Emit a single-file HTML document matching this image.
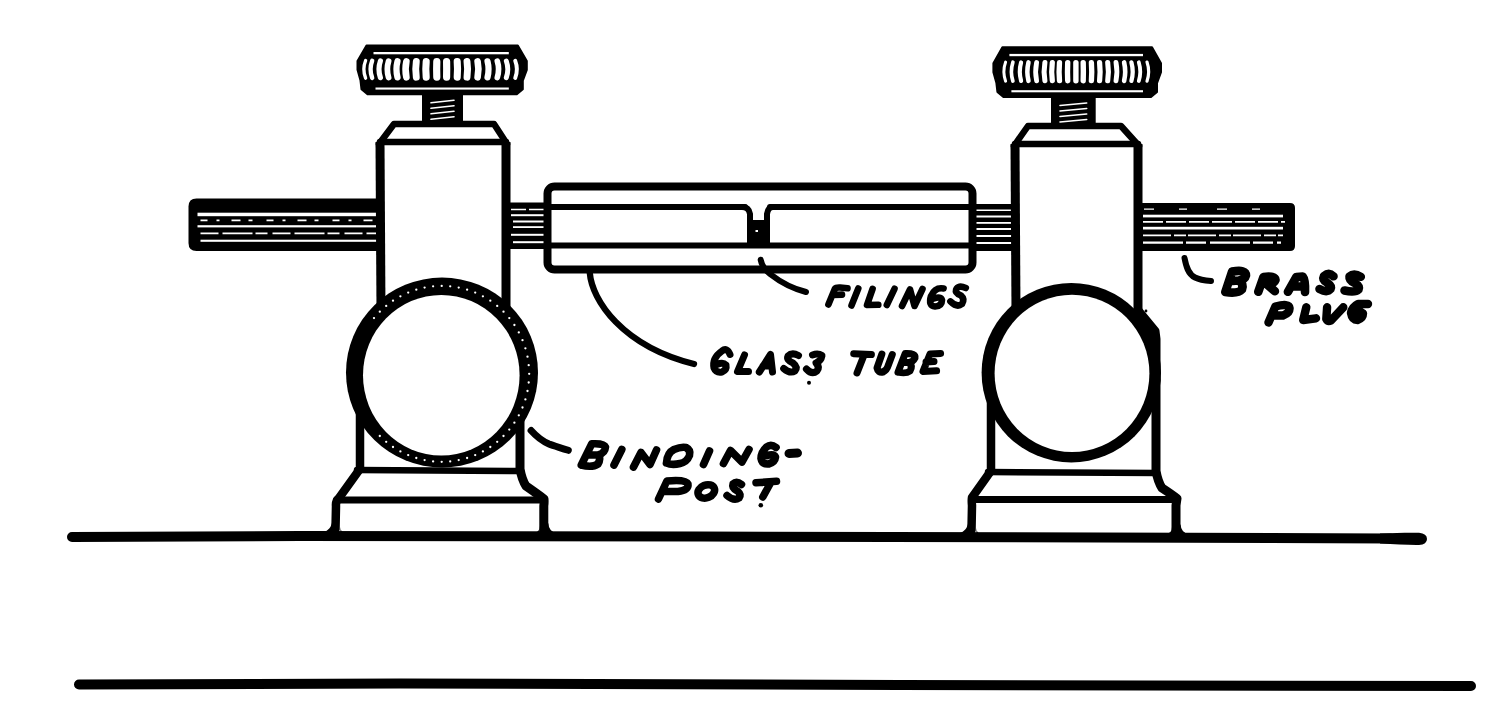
<!DOCTYPE html>
<html><head><meta charset="utf-8"><style>
html,body{margin:0;padding:0;background:#fff;width:1491px;height:726px;overflow:hidden}
svg{display:block}
</style></head><body>
<svg width="1491" height="726" viewBox="0 0 1491 726">
<rect width="1491" height="726" fill="#fff"/>
<path d="M196.5,198.5 L380,198.5 Q380,198.5 380,198.5 L380,251 Q380,251 380,251 L196.5,251 Q188.5,251 188.5,243 L188.5,206.5 Q188.5,198.5 196.5,198.5 Z" fill="#000"/>
<rect x="197.5" y="212.7" width="182.5" height="3.5" fill="#fff"/>
<line x1="200.5" y1="220.35" x2="380" y2="220.35" stroke="#fff" stroke-width="1.6999999999999886" stroke-dasharray="7 9 3 12 9 8 4 14"/>
<rect x="197.5" y="225.2" width="182.5" height="2.200000000000017" fill="#fff"/>
<line x1="200.5" y1="233.39999999999998" x2="380" y2="233.39999999999998" stroke="#fff" stroke-width="1.5999999999999943" stroke-dasharray="18 4 30 3 12 5"/>
<rect x="200.5" y="239.7" width="179.5" height="2.1000000000000227" fill="#fff"/>
<path d="M505,202.5 L548,202.5 Q548,202.5 548,202.5 L548,249 Q548,249 548,249 L505,249 Q505,249 505,249 L505,202.5 Q505,202.5 505,202.5 Z" fill="#000"/>
<line x1="511" y1="209.5" x2="548" y2="209.5" stroke="#fff" stroke-width="1.3999999999999773" stroke-dasharray="15 3"/>
<rect x="511" y="214.2" width="37" height="2.0" fill="#fff"/>
<rect x="513" y="220.5" width="35" height="2.0" fill="#fff"/>
<rect x="513" y="226.2" width="35" height="1.8000000000000114" fill="#fff"/>
<rect x="511" y="233.8" width="37" height="2.0" fill="#fff"/>
<rect x="513" y="241.2" width="35" height="2.0" fill="#fff"/>
<path d="M970,204 L1015,204 Q1015,204 1015,204 L1015,251 Q1015,251 1015,251 L970,251 Q970,251 970,251 L970,204 Q970,204 970,204 Z" fill="#000"/>
<rect x="976" y="209.5" width="39" height="1.5" fill="#fff"/>
<rect x="976" y="215.5" width="39" height="2.0" fill="#fff"/>
<rect x="976" y="222" width="39" height="1.8000000000000114" fill="#fff"/>
<rect x="976" y="228" width="39" height="2" fill="#fff"/>
<rect x="976" y="235" width="39" height="2" fill="#fff"/>
<rect x="976" y="242" width="39" height="2" fill="#fff"/>
<path d="M1138,203 L1290,203 Q1295,203 1295,208 L1295,246 Q1295,251 1290,251 L1138,251 Q1138,251 1138,251 L1138,203 Q1138,203 1138,203 Z" fill="#000"/>
<line x1="1144" y1="209.10000000000002" x2="1285" y2="209.10000000000002" stroke="#fff" stroke-width="1.4000000000000057" stroke-dasharray="10 25 8 30"/>
<rect x="1143" y="214.7" width="140" height="2.700000000000017" fill="#fff"/>
<line x1="1143" y1="221.85" x2="1285" y2="221.85" stroke="#fff" stroke-width="1.6999999999999886" stroke-dasharray="20 3"/>
<rect x="1143" y="226.8" width="140" height="2.6999999999999886" fill="#fff"/>
<line x1="1143" y1="235.3" x2="1283" y2="235.3" stroke="#fff" stroke-width="1.799999999999983" stroke-dasharray="28 3 12 2"/>
<line x1="1143" y1="242.65" x2="1281" y2="242.65" stroke="#fff" stroke-width="2.3000000000000114" stroke-dasharray="40 3 20 4"/>
<rect x="547.5" y="186.5" width="425" height="83" rx="7" fill="#fff" stroke="#000" stroke-width="8"/>
<path d="M548,207 L745,207" fill="none" stroke="#000" stroke-width="6" stroke-linecap="round" stroke-linejoin="round"/>
<path d="M770,207 L972,207" fill="none" stroke="#000" stroke-width="6" stroke-linecap="round" stroke-linejoin="round"/>
<path d="M548,245.5 L972,245.5" fill="none" stroke="#000" stroke-width="6" stroke-linecap="round" stroke-linejoin="round"/>
<path d="M742,207 Q749,207 750,214 L750,245 L767,245 L767,214 Q768,207 773,207" fill="none" stroke="#000" stroke-width="6" stroke-linecap="round" stroke-linejoin="round"/>
<rect x="748" y="220" width="21" height="26" fill="#000"/>
<rect x="755.5" y="230" width="2.5" height="2" fill="#fff"/>
<path d="M72,537 L300,536 L700,536.5 L1100,537.5 L1390,538.5" fill="none" stroke="#000" stroke-width="10" stroke-linecap="round"/>
<path d="M1380,533.6 C1395,533 1408,532.5 1419,532.8 Q1427,533.5 1427,539 Q1427,544.5 1419,545 C1408,545.2 1395,544 1380,543.5 Z" fill="#000"/>
<path d="M79,684.5 L400,683.5 L900,685 L1471,686" fill="none" stroke="#000" stroke-width="10" stroke-linecap="round"/>
<path d="M379,144 L394,124 L494,124 L507,144" fill="#fff" stroke="#000" stroke-width="6.5" stroke-linecap="round" stroke-linejoin="round"/>
<path d="M380,142 L506,142" fill="none" stroke="#000" stroke-width="6.5" stroke-linecap="round" stroke-linejoin="round"/>
<path d="M380,142 L381,312" fill="none" stroke="#000" stroke-width="9" stroke-linecap="butt" stroke-linejoin="round"/>
<path d="M506,142 L506,312" fill="none" stroke="#000" stroke-width="9" stroke-linecap="butt" stroke-linejoin="round"/>
<rect x="360" y="380" width="160" height="90" fill="#fff"/>
<path d="M360,380 L360,468 Q359,471 357,473 L339,498 Q335.5,501 336.0,506 L335.5,529 Q334.5,535 326.5,536" fill="none" stroke="#000" stroke-width="8.5" stroke-linecap="round" stroke-linejoin="round"/>
<path d="M520,380 L520,469 Q522,480 526,486 Q539,495 544,499 Q544.3,502 543.8,506 L543.8,529 Q543.8,535 550.8,536" fill="none" stroke="#000" stroke-width="9" stroke-linecap="round" stroke-linejoin="round"/>
<path d="M357,470 L521,471" fill="none" stroke="#000" stroke-width="6.5" stroke-linecap="round" stroke-linejoin="round"/>
<path d="M336.5,500 L543.8,500" fill="none" stroke="#000" stroke-width="7" stroke-linecap="round" stroke-linejoin="round"/>
<path d="M332.5,519 Q332.0,531 320.5,533 L336.5,537 Z" fill="#000"/>
<path d="M548.3,523 Q548.8,531 555.8,533 L543.8,537 Z" fill="#000"/>
<path d="M340.5,533 L340.5,527 Q340.5,533 346.5,533 Z" fill="#000"/>
<path d="M539.8,533 L539.8,526 Q539.8,533 532.8,533 Z" fill="#000"/>
<path d="M1014,146 L1028,126 L1121,126 L1139,146" fill="#fff" stroke="#000" stroke-width="6.5" stroke-linecap="round" stroke-linejoin="round"/>
<path d="M1015,144 L1138,144" fill="none" stroke="#000" stroke-width="6.5" stroke-linecap="round" stroke-linejoin="round"/>
<path d="M1015,144 L1016,312" fill="none" stroke="#000" stroke-width="9" stroke-linecap="butt" stroke-linejoin="round"/>
<path d="M1138,144 L1138,312" fill="none" stroke="#000" stroke-width="9" stroke-linecap="butt" stroke-linejoin="round"/>
<rect x="991" y="380" width="165" height="92" fill="#fff"/>
<path d="M991,380 L991,470 Q990,473 988,475 L972,497.5 Q971.5,500.5 972.0,505.5 L971.5,530 Q970.5,536 962.5,537" fill="none" stroke="#000" stroke-width="8.5" stroke-linecap="round" stroke-linejoin="round"/>
<path d="M1138.5,311 L1155,331 L1156,339 L1156,380" fill="none" stroke="#000" stroke-width="9" stroke-linecap="round" stroke-linejoin="round"/>
<path d="M1156,380 L1156,471 Q1158,482 1162,488 Q1172,494.5 1177,498.5 Q1176.5,501.5 1176,505.5 L1176,530 Q1176,536 1183,537" fill="none" stroke="#000" stroke-width="9" stroke-linecap="round" stroke-linejoin="round"/>
<path d="M988,472 L1157,473" fill="none" stroke="#000" stroke-width="6.5" stroke-linecap="round" stroke-linejoin="round"/>
<path d="M972.5,499.5 L1176,499.5" fill="none" stroke="#000" stroke-width="7" stroke-linecap="round" stroke-linejoin="round"/>
<path d="M968.5,520 Q968.0,532 956.5,534 L972.5,538 Z" fill="#000"/>
<path d="M1180.5,524 Q1181,532 1188,534 L1176,538 Z" fill="#000"/>
<path d="M976.5,534 L976.5,528 Q976.5,534 982.5,534 Z" fill="#000"/>
<path d="M1172,534 L1172,527 Q1172,534 1165,534 Z" fill="#000"/>
<ellipse cx="442" cy="372.6" rx="96" ry="95" fill="#000"/>
<ellipse cx="441.3" cy="375.2" rx="78.3" ry="80.3" fill="#fff"/>
<circle cx="529.2" cy="373.8" r="1.15" fill="#fff"/>
<circle cx="528.7" cy="382.5" r="1.15" fill="#fff"/>
<circle cx="527.5" cy="391.0" r="1.15" fill="#fff"/>
<circle cx="525.4" cy="399.4" r="1.15" fill="#fff"/>
<circle cx="522.5" cy="407.5" r="1.15" fill="#fff"/>
<circle cx="518.8" cy="415.3" r="1.15" fill="#fff"/>
<circle cx="514.4" cy="422.7" r="1.15" fill="#fff"/>
<circle cx="509.3" cy="429.6" r="1.15" fill="#fff"/>
<circle cx="503.5" cy="436.0" r="1.15" fill="#fff"/>
<circle cx="497.2" cy="441.8" r="1.15" fill="#fff"/>
<circle cx="490.3" cy="447.0" r="1.15" fill="#fff"/>
<circle cx="482.9" cy="451.4" r="1.15" fill="#fff"/>
<circle cx="475.2" cy="455.1" r="1.15" fill="#fff"/>
<circle cx="467.1" cy="458.0" r="1.15" fill="#fff"/>
<circle cx="458.7" cy="460.1" r="1.15" fill="#fff"/>
<circle cx="450.2" cy="461.4" r="1.15" fill="#fff"/>
<circle cx="441.7" cy="461.8" r="1.15" fill="#fff"/>
<circle cx="433.1" cy="461.4" r="1.15" fill="#fff"/>
<circle cx="424.6" cy="460.1" r="1.15" fill="#fff"/>
<circle cx="416.3" cy="458.0" r="1.15" fill="#fff"/>
<circle cx="408.2" cy="455.1" r="1.15" fill="#fff"/>
<circle cx="400.4" cy="451.4" r="1.15" fill="#fff"/>
<circle cx="393.0" cy="447.0" r="1.15" fill="#fff"/>
<circle cx="386.2" cy="441.8" r="1.15" fill="#fff"/>
<circle cx="379.8" cy="436.0" r="1.15" fill="#fff"/>
<circle cx="374.0" cy="318.1" r="1.15" fill="#fff"/>
<circle cx="379.8" cy="311.7" r="1.15" fill="#fff"/>
<circle cx="386.2" cy="305.9" r="1.15" fill="#fff"/>
<circle cx="393.0" cy="300.7" r="1.15" fill="#fff"/>
<circle cx="400.4" cy="296.3" r="1.15" fill="#fff"/>
<circle cx="408.2" cy="292.6" r="1.15" fill="#fff"/>
<circle cx="416.3" cy="289.7" r="1.15" fill="#fff"/>
<circle cx="424.6" cy="287.6" r="1.15" fill="#fff"/>
<circle cx="433.1" cy="286.3" r="1.15" fill="#fff"/>
<circle cx="441.7" cy="285.9" r="1.15" fill="#fff"/>
<circle cx="450.2" cy="286.3" r="1.15" fill="#fff"/>
<circle cx="458.7" cy="287.6" r="1.15" fill="#fff"/>
<circle cx="467.1" cy="289.7" r="1.15" fill="#fff"/>
<circle cx="475.2" cy="292.6" r="1.15" fill="#fff"/>
<circle cx="482.9" cy="296.3" r="1.15" fill="#fff"/>
<circle cx="490.3" cy="300.7" r="1.15" fill="#fff"/>
<circle cx="497.2" cy="305.9" r="1.15" fill="#fff"/>
<circle cx="503.5" cy="311.7" r="1.15" fill="#fff"/>
<circle cx="509.3" cy="318.1" r="1.15" fill="#fff"/>
<circle cx="514.4" cy="325.0" r="1.15" fill="#fff"/>
<circle cx="518.8" cy="332.4" r="1.15" fill="#fff"/>
<circle cx="522.5" cy="340.2" r="1.15" fill="#fff"/>
<circle cx="525.4" cy="348.3" r="1.15" fill="#fff"/>
<circle cx="527.5" cy="356.7" r="1.15" fill="#fff"/>
<circle cx="528.7" cy="365.2" r="1.15" fill="#fff"/>
<ellipse cx="1071.3" cy="372.7" rx="89.7" ry="89.7" fill="#000"/>
<ellipse cx="1072" cy="373.4" rx="77.4" ry="78.7" fill="#fff"/>
<path d="M366.5,45.4 L517.8,45.4 L526.8,61.0 L526.8,69.8 L522.8,80.6 L522.8,89.3 L516.8,94.3 L367.5,94.3 L361.5,89.3 L360.5,80.6 L357.5,69.8 L357.5,61.0 Z" fill="#000" stroke="#000" stroke-width="2" stroke-linejoin="round"/>
<rect x="373.5" y="52.0" width="135.29999999999995" height="2.3" fill="#fff"/>
<rect x="375.5" y="87.5" width="133.29999999999995" height="2.1" fill="#fff"/>
<path d="M365.6,60.5 Q362.1,69.3 365.6,78.2" stroke="#fff" stroke-width="3.35" stroke-linecap="round" fill="none"/>
<path d="M372.2,60.8 Q368.9,69.3 372.2,77.9" stroke="#fff" stroke-width="4.33" stroke-linecap="round" fill="none"/>
<path d="M380.4,61.0 Q377.5,69.3 380.4,77.7" stroke="#fff" stroke-width="5.16" stroke-linecap="round" fill="none"/>
<path d="M388.6,61.2 Q386.1,69.3 388.6,77.5" stroke="#fff" stroke-width="5.76" stroke-linecap="round" fill="none"/>
<path d="M397.5,61.3 Q395.4,69.3 397.5,77.4" stroke="#fff" stroke-width="6.25" stroke-linecap="round" fill="none"/>
<path d="M406.4,61.4 Q404.7,69.3 406.4,77.3" stroke="#fff" stroke-width="6.61" stroke-linecap="round" fill="none"/>
<path d="M416.3,61.5 Q415.1,69.3 416.3,77.2" stroke="#fff" stroke-width="6.90" stroke-linecap="round" fill="none"/>
<path d="M426.2,61.6 Q425.4,69.3 426.2,77.1" stroke="#fff" stroke-width="7.09" stroke-linecap="round" fill="none"/>
<path d="M436.8,61.6 Q436.5,69.3 436.8,77.1" stroke="#fff" stroke-width="7.19" stroke-linecap="round" fill="none"/>
<path d="M446.6,61.6 Q446.8,69.3 446.6,77.1" stroke="#fff" stroke-width="7.19" stroke-linecap="round" fill="none"/>
<path d="M457.2,61.6 Q457.9,69.3 457.2,77.1" stroke="#fff" stroke-width="7.10" stroke-linecap="round" fill="none"/>
<path d="M467.0,61.5 Q468.2,69.3 467.0,77.2" stroke="#fff" stroke-width="6.92" stroke-linecap="round" fill="none"/>
<path d="M477.6,61.4 Q479.3,69.3 477.6,77.3" stroke="#fff" stroke-width="6.62" stroke-linecap="round" fill="none"/>
<path d="M487.5,61.3 Q489.6,69.3 487.5,77.4" stroke="#fff" stroke-width="6.21" stroke-linecap="round" fill="none"/>
<path d="M497.3,61.2 Q499.9,69.3 497.3,77.5" stroke="#fff" stroke-width="5.65" stroke-linecap="round" fill="none"/>
<path d="M506.3,61.0 Q509.3,69.3 506.3,77.7" stroke="#fff" stroke-width="4.94" stroke-linecap="round" fill="none"/>
<path d="M515.2,60.7 Q518.6,69.3 515.2,78.0" stroke="#fff" stroke-width="3.92" stroke-linecap="round" fill="none"/>
<rect x="422" y="92.3" width="41" height="32.7" fill="#000"/>
<path d="M431,102.8 L454,100.3" stroke="#fff" stroke-width="1.6" stroke-linecap="round"/>
<path d="M431,108.3 L454,105.8" stroke="#fff" stroke-width="1.6" stroke-linecap="round"/>
<path d="M431,113.8 L454,111.3" stroke="#fff" stroke-width="1.6" stroke-linecap="round"/>
<path d="M431,119.3 L454,116.8" stroke="#fff" stroke-width="1.6" stroke-linecap="round"/>
<path d="M1002.4,47.3 L1152.0,47.3 L1161.0,63.2 L1161.0,72.2 L1157.0,83.1 L1157.0,92.0 L1151.0,97.0 L1003.4,97.0 L997.4,92.0 L996.4,83.1 L993.4,72.2 L993.4,63.2 Z" fill="#000" stroke="#000" stroke-width="2" stroke-linejoin="round"/>
<rect x="1009.4" y="53.9" width="133.60000000000002" height="2.3" fill="#fff"/>
<rect x="1011.4" y="90.2" width="131.60000000000002" height="2.1" fill="#fff"/>
<path d="M1005.6,62.1 Q1002.2,71.7 1005.6,81.2" stroke="#fff" stroke-width="3.01" stroke-linecap="round" fill="none"/>
<path d="M1012.9,62.2 Q1009.9,71.7 1012.9,81.1" stroke="#fff" stroke-width="3.65" stroke-linecap="round" fill="none"/>
<path d="M1021.1,62.4 Q1018.5,71.7 1021.1,80.9" stroke="#fff" stroke-width="4.16" stroke-linecap="round" fill="none"/>
<path d="M1028.5,62.4 Q1026.2,71.7 1028.5,80.9" stroke="#fff" stroke-width="4.51" stroke-linecap="round" fill="none"/>
<path d="M1036.6,62.5 Q1034.7,71.7 1036.6,80.8" stroke="#fff" stroke-width="4.81" stroke-linecap="round" fill="none"/>
<path d="M1044.9,62.5 Q1043.3,71.7 1044.9,80.8" stroke="#fff" stroke-width="5.03" stroke-linecap="round" fill="none"/>
<path d="M1052.3,62.6 Q1051.1,71.7 1052.3,80.7" stroke="#fff" stroke-width="5.19" stroke-linecap="round" fill="none"/>
<path d="M1059.5,62.6 Q1058.7,71.7 1059.5,80.7" stroke="#fff" stroke-width="5.29" stroke-linecap="round" fill="none"/>
<path d="M1067.7,62.6 Q1067.3,71.7 1067.7,80.7" stroke="#fff" stroke-width="5.37" stroke-linecap="round" fill="none"/>
<path d="M1075.9,62.6 Q1075.9,71.7 1075.9,80.7" stroke="#fff" stroke-width="5.40" stroke-linecap="round" fill="none"/>
<path d="M1083.2,62.6 Q1083.5,71.7 1083.2,80.7" stroke="#fff" stroke-width="5.39" stroke-linecap="round" fill="none"/>
<path d="M1091.4,62.6 Q1092.1,71.7 1091.4,80.7" stroke="#fff" stroke-width="5.33" stroke-linecap="round" fill="none"/>
<path d="M1099.6,62.6 Q1100.6,71.7 1099.6,80.7" stroke="#fff" stroke-width="5.23" stroke-linecap="round" fill="none"/>
<path d="M1107.7,62.5 Q1109.1,71.7 1107.7,80.8" stroke="#fff" stroke-width="5.08" stroke-linecap="round" fill="none"/>
<path d="M1116.0,62.5 Q1117.8,71.7 1116.0,80.8" stroke="#fff" stroke-width="4.86" stroke-linecap="round" fill="none"/>
<path d="M1124.1,62.4 Q1126.3,71.7 1124.1,80.9" stroke="#fff" stroke-width="4.58" stroke-linecap="round" fill="none"/>
<path d="M1131.4,62.4 Q1134.0,71.7 1131.4,80.9" stroke="#fff" stroke-width="4.26" stroke-linecap="round" fill="none"/>
<path d="M1138.8,62.3 Q1141.7,71.7 1138.8,81.0" stroke="#fff" stroke-width="3.84" stroke-linecap="round" fill="none"/>
<path d="M1147.0,62.1 Q1150.3,71.7 1147.0,81.2" stroke="#fff" stroke-width="3.19" stroke-linecap="round" fill="none"/>
<rect x="1051" y="95" width="44.700000000000045" height="31" fill="#000"/>
<path d="M1060,105.5 L1086.7,103.0" stroke="#fff" stroke-width="1.6" stroke-linecap="round"/>
<path d="M1060,111.0 L1086.7,108.5" stroke="#fff" stroke-width="1.6" stroke-linecap="round"/>
<path d="M1060,116.5 L1086.7,114.0" stroke="#fff" stroke-width="1.6" stroke-linecap="round"/>
<path d="M1060,122.0 L1086.7,119.5" stroke="#fff" stroke-width="1.6" stroke-linecap="round"/>
<path d="M589.8,273 C592,300 622,346 694,364" fill="none" stroke="#000" stroke-width="6.3" stroke-linecap="round" stroke-linejoin="round"/>
<path d="M760.7,259.8 C762,266 765,270 770,274 C779,281 790,288 806,292" fill="none" stroke="#000" stroke-width="6" stroke-linecap="round" stroke-linejoin="round"/>
<path d="M531.1,430.5 C536,436 542,441 549,444 C554,446 560,447.5 568.3,450.3" fill="none" stroke="#000" stroke-width="7" stroke-linecap="round" stroke-linejoin="round"/>
<path d="M1184.5,258 C1186,266 1188,274 1195,277.5 C1200,280 1205,280.5 1211,281" fill="none" stroke="#000" stroke-width="6" stroke-linecap="round" stroke-linejoin="round"/>
<path d="M828.4,304.5 L835,288.5 Q836,287.3 840,287.5 L847.5,288.3 M832.5,295 L842,294.6" fill="none" stroke="#000" stroke-width="6.6" stroke-linecap="round" stroke-linejoin="round"/>
<path d="M851.5,305.5 L858.3,288.5" fill="none" stroke="#000" stroke-width="6.6" stroke-linecap="round" stroke-linejoin="round"/>
<path d="M872.6,288.8 L867,305 L878.3,304.8" fill="none" stroke="#000" stroke-width="6.6" stroke-linecap="round" stroke-linejoin="round"/>
<path d="M886.8,305 L894.5,288.8" fill="none" stroke="#000" stroke-width="6.6" stroke-linecap="round" stroke-linejoin="round"/>
<path d="M902,306 L910,289.4 L914.5,306 L922.5,289" fill="none" stroke="#000" stroke-width="6.6" stroke-linecap="round" stroke-linejoin="round"/>
<path d="M943.6,288.5 Q935,287 931,296 Q928,306 935,306.5 Q942,306 942,300 Q941,296 934,298.5" fill="none" stroke="#000" stroke-width="6.6" stroke-linecap="round" stroke-linejoin="round"/>
<path d="M965.8,288 Q958,284.5 956,290 Q955,293 961,295.5 Q965,299 962,304 Q957,308 950.4,301.4" fill="none" stroke="#000" stroke-width="6.6" stroke-linecap="round" stroke-linejoin="round"/>
<path d="M730,354.5 Q727,347 722,351 Q712,358 714,368 Q716,373 722,372 Q727,370 726,365 Q723,362 717,364.5" fill="none" stroke="#000" stroke-width="7.0" stroke-linecap="round" stroke-linejoin="round"/>
<path d="M744.5,355 L737.5,371.5 L748.5,371.5" fill="none" stroke="#000" stroke-width="7.0" stroke-linecap="round" stroke-linejoin="round"/>
<path d="M759.3,372 L770.5,354.5 L772.5,372 M763,366 L771,366" fill="none" stroke="#000" stroke-width="7.0" stroke-linecap="round" stroke-linejoin="round"/>
<path d="M798.5,355.5 Q792,352 788,356 Q786,360 793,363 Q798,367 795,371 Q790,374 783.7,368.5" fill="none" stroke="#000" stroke-width="7.0" stroke-linecap="round" stroke-linejoin="round"/>
<path d="M812.5,355 Q818,353 822,355.5 Q821,361 816,363 Q820,367 817,371 Q812,375 806.4,369" fill="none" stroke="#000" stroke-width="7.0" stroke-linecap="round" stroke-linejoin="round"/>
<circle cx="809" cy="382.7" r="2" fill="#000"/>
<circle cx="1146" cy="311" r="1.4" fill="#000"/>
<path d="M853.7,353.7 L871.4,354.5 M864,355.3 L857,373" fill="none" stroke="#000" stroke-width="7.0" stroke-linecap="round" stroke-linejoin="round"/>
<path d="M881.9,354 L877,368 Q878,373 883,372 Q887,370 888,366 L892.3,354.5" fill="none" stroke="#000" stroke-width="7.0" stroke-linecap="round" stroke-linejoin="round"/>
<path d="M898,372.2 L905.2,353.5 Q916,353 915,358 Q913,362 909,362.5 Q913,366 910,371 Q906,374 898,372.2 M902,362.5 L909,362.5" fill="none" stroke="#000" stroke-width="7.0" stroke-linecap="round" stroke-linejoin="round"/>
<path d="M940.6,353.5 L930,354 L923,371.4 L936.6,370.8 M926,362 L934,361.5" fill="none" stroke="#000" stroke-width="7.0" stroke-linecap="round" stroke-linejoin="round"/>
<path d="M581.3,465 L591.8,443.8 Q604,443 605.5,447 Q605,453 598.8,454.7 Q601,459 598,464 Q592,468 581.3,465 M590,455 L598.8,454.7" fill="none" stroke="#000" stroke-width="7.6" stroke-linecap="round" stroke-linejoin="round"/>
<path d="M614,465 L621.8,449.5" fill="none" stroke="#000" stroke-width="7.6" stroke-linecap="round" stroke-linejoin="round"/>
<path d="M633.5,467 L641,452.5 L650,464.5 L656.5,450" fill="none" stroke="#000" stroke-width="7.6" stroke-linecap="round" stroke-linejoin="round"/>
<path d="M666.5,463 Q667,453 674,449.5 Q681,446.5 686,447.5 Q691,450 689.5,455.5 Q687,462 680,463.5 Q672,465.5 666.5,463" fill="none" stroke="#000" stroke-width="7.6" stroke-linecap="round" stroke-linejoin="round"/>
<path d="M703.5,464.5 L709.5,451" fill="none" stroke="#000" stroke-width="7.6" stroke-linecap="round" stroke-linejoin="round"/>
<path d="M723.5,463.5 L730.5,450.5 L742,462 L749,449.5" fill="none" stroke="#000" stroke-width="7.6" stroke-linecap="round" stroke-linejoin="round"/>
<path d="M776,447.5 Q771,443.5 766.5,447 Q761,452 761,458.5 Q762,464.5 768.5,464 Q775,462 775.5,457 Q774,453.5 767,455.5" fill="none" stroke="#000" stroke-width="7.6" stroke-linecap="round" stroke-linejoin="round"/>
<path d="M789,453.5 L797.5,453" fill="none" stroke="#000" stroke-width="9" stroke-linecap="round" stroke-linejoin="round"/>
<path d="M658.5,499 L666.9,481 Q686,479 688,484 Q689,490 678,491.5 L666,491.6" fill="none" stroke="#000" stroke-width="7.5" stroke-linecap="round" stroke-linejoin="round"/>
<ellipse cx="706.3" cy="491.4" rx="8.6" ry="6.4" transform="rotate(-22 706.3 491.4)" fill="none" stroke="#000" stroke-width="7.5"/>
<path d="M741.5,484.5 Q736.5,480.5 733,484 Q731.5,488 738,491.5 Q741.5,494.5 739,498 Q734,501.5 727,495.5" fill="none" stroke="#000" stroke-width="7.5" stroke-linecap="round" stroke-linejoin="round"/>
<path d="M756,482.8 L776.5,481.2 M770.5,483 L762.8,497" fill="none" stroke="#000" stroke-width="7.5" stroke-linecap="round" stroke-linejoin="round"/>
<circle cx="760.8" cy="505.2" r="2.3" fill="#000"/>
<path d="M1225.3,292 L1232.1,271.6 Q1246,269 1246,275.5 Q1245,279.5 1239,280.5 Q1244,284 1242,289.5 Q1238,294 1225.3,292 M1232,281 L1239,280.5" fill="none" stroke="#000" stroke-width="8.6" stroke-linecap="round" stroke-linejoin="round"/>
<path d="M1258.3,291.8 L1263.5,277 Q1275,275.5 1275.5,280 Q1274,284 1266.5,284 L1274.9,291.3" fill="none" stroke="#000" stroke-width="8.6" stroke-linecap="round" stroke-linejoin="round"/>
<path d="M1287.9,291.8 L1296.4,277 L1302.7,276.6 Q1305.5,280 1305,292 M1293.6,286.5 L1304,286.5" fill="none" stroke="#000" stroke-width="8.6" stroke-linecap="round" stroke-linejoin="round"/>
<path d="M1333.5,276.3 Q1329,272 1324,276 Q1322,280 1327.5,283 Q1332,286 1330.5,289 Q1327,293 1319.5,289" fill="none" stroke="#000" stroke-width="8.6" stroke-linecap="round" stroke-linejoin="round"/>
<path d="M1360.8,276.8 Q1354,272.5 1349.5,276.5 Q1349,280 1354.6,283 Q1360,286 1358.5,289.5 Q1355,293 1344.5,290.5" fill="none" stroke="#000" stroke-width="8.6" stroke-linecap="round" stroke-linejoin="round"/>
<path d="M1268.5,322.5 L1275.4,306.5 Q1289,303 1289.5,308 Q1290,313 1283,315.5 L1273,315.5" fill="none" stroke="#000" stroke-width="8.4" stroke-linecap="round" stroke-linejoin="round"/>
<path d="M1306.3,307.3 L1303.2,320 L1316,318.3" fill="none" stroke="#000" stroke-width="8.4" stroke-linecap="round" stroke-linejoin="round"/>
<path d="M1327.1,307.3 L1326.3,319 Q1328,322 1331,320.5 L1343.3,307.3" fill="none" stroke="#000" stroke-width="8.4" stroke-linecap="round" stroke-linejoin="round"/>
<path d="M1368,304 L1358,304 Q1352,307 1351,313 Q1352,320 1357.5,320 Q1363,318 1363,313.5 Q1359,310 1354,313" fill="none" stroke="#000" stroke-width="8.4" stroke-linecap="round" stroke-linejoin="round"/>
</svg>
</body></html>
